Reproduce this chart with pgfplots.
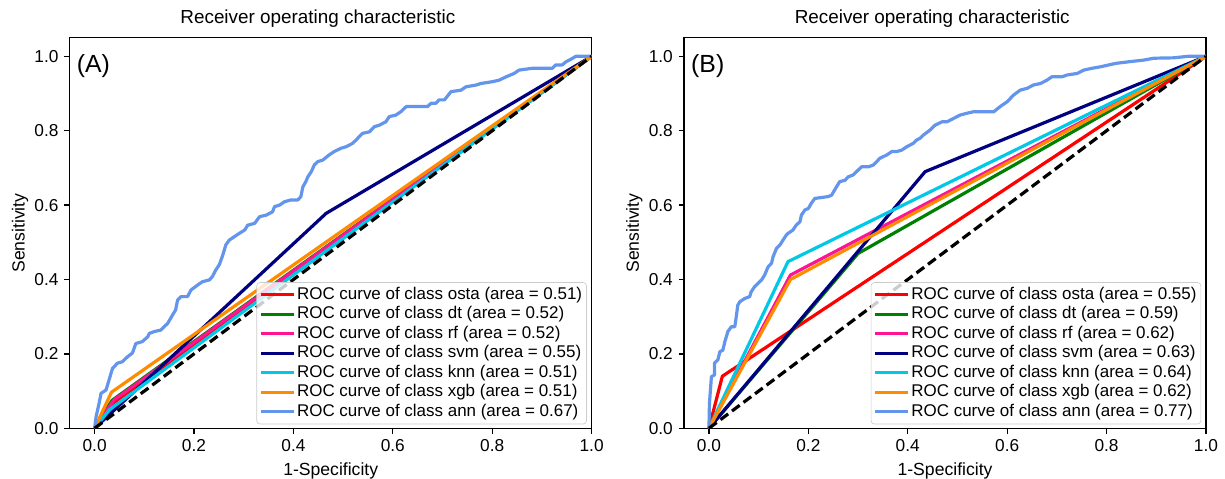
\documentclass[border=0pt]{standalone}
\usepackage{fontspec}
\setmainfont{Liberation Sans}
\usepackage{pgfplots}
\pgfplotsset{compat=1.18}

\definecolor{osta}{RGB}{255,0,0}
\definecolor{dtc}{RGB}{0,128,0}
\definecolor{rfc}{RGB}{255,20,147}
\definecolor{svmc}{RGB}{0,0,128}
\definecolor{knnc}{RGB}{0,200,230}
\definecolor{xgbc}{RGB}{255,140,0}
\definecolor{annc}{RGB}{100,149,237}

\pgfplotsset{
  rocax/.style={
    scale only axis, width=326.2pt, height=244.1pt,
    xmin=-0.05, xmax=1.0, ymin=0, ymax=1.05,
    xtick={0,0.2,0.4,0.6,0.8,1}, ytick={0,0.2,0.4,0.6,0.8,1},
    xtick pos=lower, ytick pos=left, tick align=outside,
    major tick length=3.5pt,
    tick style={black, line width=0.8pt},
    axis line style={black, line width=0.8pt},
    ticklabel style={font=\fontsize{10.8}{12}\selectfont},
    /pgf/number format/.cd, fixed, fixed zerofill, precision=1, assume math mode=true,
    /pgfplots/.cd,
    title style={font=\fontsize{11.8}{14}\selectfont, yshift=-3pt, xshift=-8pt},
    label style={font=\fontsize{11}{13}\selectfont},
    ylabel style={yshift=-3pt},
    title={Receiver operating characteristic},
    xlabel={1-Specificity}, ylabel={Sensitivity},
    every axis plot/.append style={line width=2pt, line join=round},
    legend cell align=left,
    legend image code/.code={\draw[#1] (0pt,0pt) -- (20.5pt,0pt);},
    legend style={at={(1,0)}, anchor=south east, xshift=-3pt, yshift=2.5pt,
      fill=white, fill opacity=0.8, draw opacity=1, text opacity=1,
      draw=black!20, rounded corners=2pt, inner sep=1.5pt,
      font=\fontsize{10.6}{12}\selectfont,
      nodes={text height=7.6pt, text depth=2.2pt, inner sep=1.2pt}},
  }
}

\begin{document}
\begin{tikzpicture}

% (A)
\begin{axis}[rocax, at={(0,0)}, anchor=south west]
\addplot[osta] coordinates {(0,0) (0.04,0.07) (1,1)};
\addlegendentry{ROC curve of class osta (area = 0.51)}
\addplot[dtc] coordinates {(0,0) (0.035,0.075) (1,1)};
\addlegendentry{ROC curve of class dt (area = 0.52)}
\addplot[rfc] coordinates {(0,0) (0.039,0.076) (1,1)};
\addlegendentry{ROC curve of class rf (area = 0.52)}
\addplot[svmc] coordinates {(0,0) (0.466,0.578) (1,1)};
\addlegendentry{ROC curve of class svm (area = 0.55)}
\addplot[knnc] coordinates {(0,0) (0.03,0.05) (1,1)};
\addlegendentry{ROC curve of class knn (area = 0.51)}
\addplot[xgbc] coordinates {(0,0) (0.034,0.097) (1,1)};
\addlegendentry{ROC curve of class xgb (area = 0.51)}
\addplot[annc] coordinates {
(0,0) (0.003,0.031) (0.009,0.067) (0.013,0.094) (0.023,0.103) (0.030,0.134)
(0.036,0.161) (0.046,0.175) (0.056,0.179) (0.066,0.192) (0.076,0.202)
(0.083,0.228) (0.096,0.233) (0.107,0.246) (0.110,0.255) (0.120,0.260)
(0.133,0.264) (0.147,0.282) (0.157,0.305) (0.163,0.318) (0.167,0.345)
(0.174,0.354) (0.187,0.354) (0.194,0.372) (0.207,0.385) (0.217,0.394)
(0.231,0.399) (0.237,0.408) (0.244,0.426) (0.251,0.440) (0.258,0.466)
(0.264,0.493) (0.271,0.506) (0.281,0.515) (0.291,0.524) (0.302,0.533)
(0.308,0.546) (0.322,0.551) (0.332,0.569) (0.345,0.573) (0.358,0.582)
(0.362,0.596) (0.372,0.600) (0.382,0.609) (0.395,0.614) (0.409,0.614)
(0.415,0.623) (0.419,0.649) (0.425,0.663) (0.429,0.676) (0.436,0.690)
(0.442,0.708) (0.449,0.717) (0.459,0.721) (0.472,0.735) (0.482,0.744)
(0.496,0.753) (0.506,0.757) (0.519,0.766) (0.526,0.775) (0.539,0.793)
(0.553,0.797) (0.563,0.811) (0.573,0.815) (0.586,0.824) (0.593,0.838)
(0.606,0.842) (0.616,0.851) (0.627,0.865) (0.670,0.865) (0.677,0.874)
(0.687,0.874) (0.693,0.883) (0.704,0.883) (0.717,0.905) (0.737,0.909)
(0.747,0.918) (0.768,0.923) (0.777,0.927) (0.801,0.932) (0.814,0.936)
(0.828,0.945) (0.844,0.954) (0.854,0.963) (0.881,0.968) (0.921,0.968)
(0.928,0.977) (0.941,0.977) (0.948,0.985) (0.962,0.995) (0.968,1.0) (1.0,1.0)};
\addlegendentry{ROC curve of class ann (area = 0.67)}
\addplot[black, dash pattern=on 6pt off 3pt, forget plot] coordinates {(0,0) (1,1)};
\node[anchor=west, inner sep=0pt, font=\fontsize{15.5}{18}\selectfont]
  at (rel axis cs:0.013,0.928) {(A)};
\end{axis}

% (B)
\begin{axis}[rocax, at={(384pt,0)}, anchor=south west]
\addplot[osta] coordinates {(0,0) (0.027,0.14) (1,1)};
\addlegendentry{ROC curve of class osta (area = 0.55)}
\addplot[dtc] coordinates {(0,0) (0.3,0.47) (1,1)};
\addlegendentry{ROC curve of class dt (area = 0.59)}
\addplot[rfc] coordinates {(0,0) (0.164,0.412) (1,1)};
\addlegendentry{ROC curve of class rf (area = 0.62)}
\addplot[svmc] coordinates {(0,0) (0.435,0.69) (1,1)};
\addlegendentry{ROC curve of class svm (area = 0.63)}
\addplot[knnc] coordinates {(0,0) (0.159,0.448) (1,1)};
\addlegendentry{ROC curve of class knn (area = 0.64)}
\addplot[xgbc] coordinates {(0,0) (0.164,0.40) (1,1)};
\addlegendentry{ROC curve of class xgb (area = 0.62)}
\addplot[annc] coordinates {
(0,0) (0.001,0.067) (0.005,0.139) (0.011,0.143) (0.011,0.175) (0.018,0.184)
(0.022,0.206) (0.028,0.210) (0.032,0.233) (0.035,0.246) (0.038,0.260)
(0.045,0.273) (0.052,0.273) (0.055,0.300) (0.058,0.331) (0.062,0.340)
(0.072,0.349) (0.082,0.354) (0.085,0.367) (0.092,0.381) (0.099,0.390)
(0.106,0.399) (0.112,0.412) (0.119,0.434) (0.126,0.444) (0.129,0.461)
(0.136,0.484) (0.143,0.493) (0.149,0.506) (0.156,0.520) (0.159,0.524)
(0.169,0.533) (0.176,0.547) (0.183,0.555) (0.186,0.573) (0.193,0.587)
(0.200,0.591) (0.206,0.605) (0.213,0.618) (0.240,0.623) (0.247,0.627)
(0.253,0.641) (0.263,0.663) (0.274,0.667) (0.280,0.676) (0.290,0.681)
(0.297,0.690) (0.307,0.703) (0.321,0.703) (0.331,0.708) (0.344,0.726)
(0.358,0.735) (0.368,0.744) (0.378,0.744) (0.388,0.748) (0.398,0.757)
(0.411,0.766) (0.418,0.775) (0.425,0.780) (0.431,0.788) (0.445,0.802)
(0.455,0.815) (0.469,0.824) (0.479,0.824) (0.492,0.833) (0.505,0.842)
(0.519,0.847) (0.532,0.851) (0.573,0.851) (0.586,0.865) (0.600,0.878)
(0.613,0.896) (0.626,0.909) (0.640,0.914) (0.653,0.923) (0.667,0.927)
(0.680,0.936) (0.690,0.945) (0.710,0.945) (0.721,0.950) (0.741,0.954)
(0.754,0.963) (0.771,0.968) (0.788,0.972) (0.818,0.981) (0.842,0.985)
(0.875,0.990) (0.895,0.995) (0.935,0.996) (0.963,1.0) (1.0,1.0)};
\addlegendentry{ROC curve of class ann (area = 0.77)}
\addplot[black, dash pattern=on 6pt off 3pt, forget plot] coordinates {(0,0) (1,1)};
\node[anchor=west, inner sep=0pt, font=\fontsize{15.5}{18}\selectfont]
  at (rel axis cs:0.013,0.928) {(B)};
\end{axis}

\pgfresetboundingbox
\useasboundingbox (-43.6pt,-31.7pt) rectangle (722.1pt,267.7pt);
\end{tikzpicture}
\end{document}
